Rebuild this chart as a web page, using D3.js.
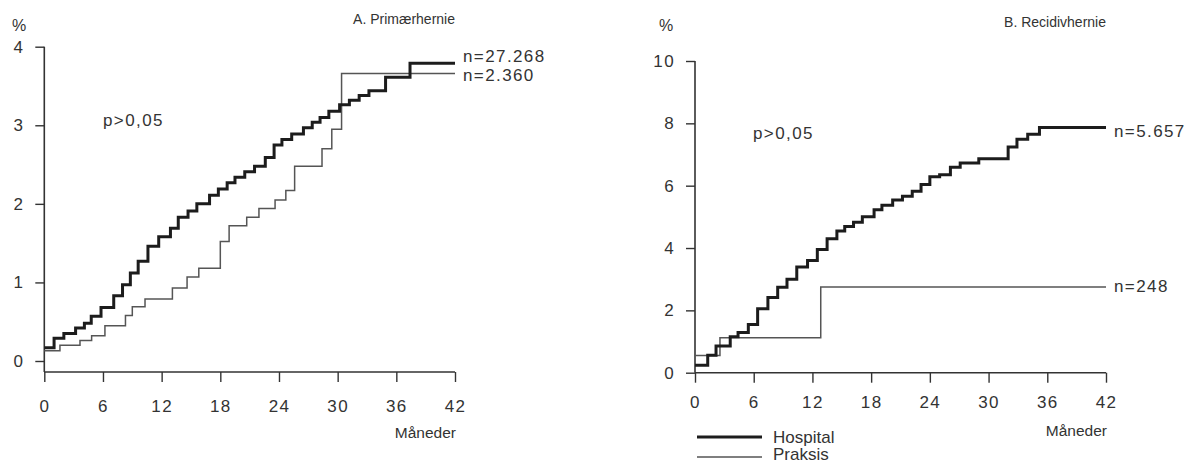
<!DOCTYPE html>
<html>
<head>
<meta charset="utf-8">
<script src="https://cdn.jsdelivr.net/npm/d3@7"></script>
<style>
  html, body { margin: 0; padding: 0; background: #fff; }
  svg { display: block; }
  text { font-family: "Liberation Sans", Arial, sans-serif; fill: #333; }
</style>
</head>
<body>
<svg id="chart" width="1187" height="465"></svg>
<script>
// ---------- Data ----------
const monthTicks = [0, 6, 12, 18, 24, 30, 36, 42];
const yTicksA = [0, 1, 2, 3, 4];
const yTicksB = [0, 2, 4, 6, 8, 10];
const seriesNames = ["Hospital", "Praksis"];

// A. Primærhernie – Hospital (step change points)
const primHospitalMonths = [0, 1.0, 2.0, 3.2, 4.1, 4.8, 5.8, 7.1, 8.0, 8.8, 9.6, 10.6, 11.7, 12.9, 13.7, 14.7, 15.6, 16.9, 17.8, 18.7, 19.5, 20.5, 21.5, 22.6, 23.5, 24.3, 25.3, 26.5, 27.4, 28.2, 29.1, 30.2, 31.2, 32.2, 33.2, 34.9, 37.4];
const primHospitalValues = [0.17, 0.29, 0.35, 0.42, 0.48, 0.57, 0.68, 0.83, 0.97, 1.12, 1.27, 1.46, 1.58, 1.69, 1.83, 1.91, 2.00, 2.11, 2.19, 2.27, 2.34, 2.41, 2.48, 2.59, 2.75, 2.82, 2.89, 2.97, 3.04, 3.10, 3.18, 3.26, 3.32, 3.38, 3.44, 3.61, 3.79];
// A. Primærhernie – Praksis
const primPraksisMonths = [0, 1.6, 3.65, 4.84, 6.2, 8.3, 9.0, 10.3, 13.1, 14.6, 15.8, 18.0, 18.9, 20.7, 21.95, 23.6, 24.7, 25.6, 28.4, 29.4, 30.4];
const primPraksisValues = [0.13, 0.20, 0.26, 0.32, 0.45, 0.58, 0.69, 0.79, 0.93, 1.07, 1.18, 1.52, 1.72, 1.83, 1.94, 2.05, 2.17, 2.48, 2.70, 2.95, 3.66];

// B. Recidivhernie – Hospital
const recHospitalMonths = [0, 1.3, 2.15, 3.6, 4.4, 5.45, 6.4, 7.45, 8.45, 9.4, 10.4, 11.5, 12.5, 13.5, 14.5, 15.3, 16.2, 17.1, 18.3, 19.1, 20.2, 21.2, 22.2, 23.1, 24.0, 25.0, 26.1, 27.1, 29.0, 32.0, 32.9, 34.0, 35.2];
const recHospitalValues = [0.24, 0.56, 0.86, 1.15, 1.29, 1.55, 2.05, 2.41, 2.74, 3.0, 3.39, 3.6, 3.95, 4.3, 4.55, 4.69, 4.83, 5.0, 5.23, 5.37, 5.54, 5.66, 5.82, 6.04, 6.29, 6.35, 6.59, 6.73, 6.86, 7.24, 7.49, 7.65, 7.87];
// B. Recidivhernie – Praksis
const recPraksisMonths = [0, 2.55, 12.85];
const recPraksisValues = [0.55, 1.12, 2.75];

const nLabelsA = ["n=27.268", "n=2.360"];
const nLabelsB = ["n=5.657", "n=248"];
const endMonth = 42;

// ---------- Drawing ----------
const svg = d3.select("#chart");
const styles = {
  Hospital: { stroke: "#1c1c1c", width: 3 },
  Praksis: { stroke: "#555", width: 1.5 }
};
const numFont = { size: "17px", spacing: "1.4px" };

function toPts(months, values) {
  const pts = months.map((m, i) => [m, values[i]]);
  pts.push([endMonth, values[values.length - 1]]);
  return pts;
}

function panel(cfg) {
  const g = svg.append("g");
  const x = d3.scaleLinear().domain([0, 42]).range(cfg.xr);
  const y = d3.scaleLinear().domain(cfg.yd).range(cfg.yr);
  const xAxisY = y(cfg.yd[0]);

  // x axis
  const xa = g.append("g").attr("transform", `translate(0,${xAxisY})`)
    .call(d3.axisBottom(x).tickValues(monthTicks).tickSize(10).tickPadding(0).tickFormat(d3.format("d")));
  xa.select(".domain").attr("stroke", "#333").attr("stroke-width", 1.6).attr("d", `M${x(0)},0H${x(42)}`);
  xa.selectAll(".tick line").attr("stroke", "#333").attr("stroke-width", 1.4);
  xa.selectAll(".tick text").attr("y", cfg.xLabelDy).attr("dy", 0)
    .style("font-size", numFont.size).style("letter-spacing", numFont.spacing).attr("fill", "#333");

  // y axis
  const ya = g.append("g").attr("transform", `translate(${x(0)},0)`)
    .call(d3.axisLeft(y).tickValues(cfg.yTicks).tickSize(9).tickPadding(11).tickFormat(d3.format("d")));
  ya.select(".domain").attr("stroke", "#333").attr("stroke-width", 1.6)
    .attr("d", `M0,${y(cfg.yTicks[cfg.yTicks.length - 1])}V${xAxisY}`);
  ya.selectAll(".tick line").attr("stroke", "#333").attr("stroke-width", 1.4);
  ya.selectAll(".tick text").style("font-size", numFont.size).style("letter-spacing", numFont.spacing).attr("fill", "#333");

  // lines
  const line = d3.line().x(d => x(d[0])).y(d => y(d[1])).curve(d3.curveStepAfter);
  cfg.series.slice().reverse().forEach(s => {
    g.append("path").datum(toPts(s.months, s.values))
      .attr("fill", "none")
      .attr("stroke", styles[s.name].stroke)
      .attr("stroke-width", styles[s.name].width)
      .attr("d", line);
  });

  // n labels
  cfg.series.forEach((s, i) => {
    g.append("text")
      .attr("x", x(42) + 8)
      .attr("y", cfg.nY[i])
      .attr("dy", "0.35em")
      .style("font-size", numFont.size).style("letter-spacing", numFont.spacing)
      .text(cfg.nLabels[i]);
  });

  // % label
  g.append("text").attr("x", cfg.pctX).attr("y", 25).attr("dy", "0.35em")
    .style("font-size", "16px").text("%");

  // title
  g.append("text").attr("x", x(42)).attr("y", cfg.titleY).attr("dy", "0.35em")
    .attr("text-anchor", "end").style("font-size", "14px").text(cfg.title);

  // p-value
  g.append("text").attr("x", cfg.pX).attr("y", cfg.pY).attr("dy", "0.35em")
    .style("font-size", numFont.size).style("letter-spacing", numFont.spacing).text("p>0,05");

  // Måneder
  g.append("text").attr("x", x(42) + 1).attr("y", cfg.manY)
    .attr("text-anchor", "end").style("font-size", "15.5px").text("Måneder");

  return { g, x, y };
}

panel({
  xr: [44.3, 455], yd: [-0.14, 4], yr: [372, 46.7], yTicks: yTicksA,
  xLabelDy: 40,
  series: [
    { name: "Hospital", months: primHospitalMonths, values: primHospitalValues },
    { name: "Praksis", months: primPraksisMonths, values: primPraksisValues }
  ],
  nLabels: nLabelsA, nY: [56, 75],
  pctX: 12, title: "A. Primærhernie", titleY: 19,
  pX: 103, pY: 120, manY: 438
});

panel({
  xr: [695, 1106], yd: [0, 10], yr: [372.7, 61], yTicks: yTicksB,
  xLabelDy: 35,
  series: [
    { name: "Hospital", months: recHospitalMonths, values: recHospitalValues },
    { name: "Praksis", months: recPraksisMonths, values: recPraksisValues }
  ],
  nLabels: nLabelsB, nY: [131, 286],
  pctX: 659, title: "B. Recidivhernie", titleY: 22,
  pX: 753, pY: 133, manY: 436
});

// legend
const leg = svg.append("g");
seriesNames.forEach((name, i) => {
  const lineY = [437, 457][i];
  const textY = [437, 454][i];
  leg.append("line").attr("x1", 697).attr("x2", 762).attr("y1", lineY).attr("y2", lineY)
    .attr("stroke", styles[name].stroke).attr("stroke-width", styles[name].width);
  leg.append("text").attr("x", 773).attr("y", textY).attr("dy", "0.35em")
    .style("font-size", "17px").text(name);
});
</script>
</body>
</html>
